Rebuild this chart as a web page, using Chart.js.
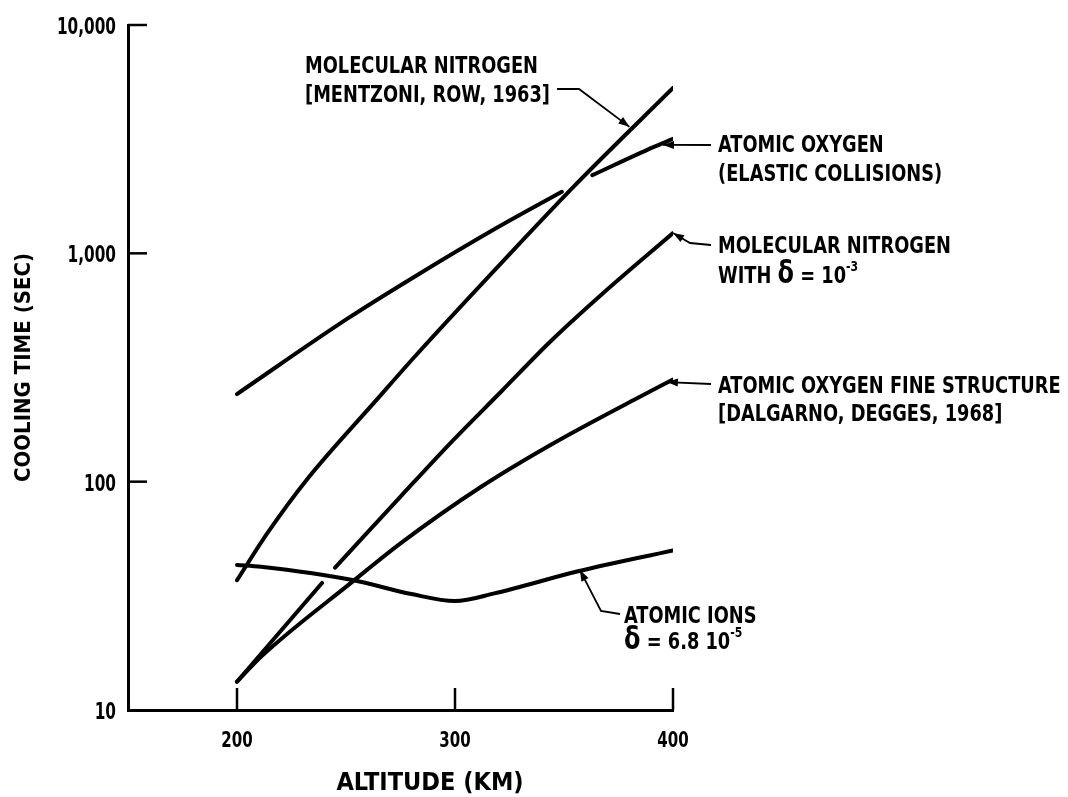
<!DOCTYPE html>
<html>
<head>
<meta charset="utf-8">
<title>Cooling time vs altitude</title>
<script src="https://cdn.jsdelivr.net/npm/chart.js@4.4.1/dist/chart.umd.min.js"></script>
<style>
    html, body { margin: 0; padding: 0; background: #fff; }
    canvas { display: block; }
</style>
</head>
<body>
<canvas id="coolingChart" width="1068" height="797"></canvas>
<script>
// ======================
// Data
// ======================
const xTicks = [200, 300, 400];
const yTicks = [10, 100, 1000, 10000];

// altitude (km) / cooling time (sec); null = break in the drawn line
const mentzoniAlt  = [200, 214, 232, 264, 282, 324, 356, 400];
const mentzoniTime = [37, 59.6, 102, 228, 357, 968, 2030, 5300];

const elasticAlt  = [200, 251, 282, 319, 349, 356, 363, 391, 400];
const elasticTime = [242, 520, 796, 1290, 1860, null, 2200, 2920, 3170];

const deltaAlt  = [200, 239, 242, 245, 275, 298, 321, 344, 367, 400];
const deltaTime = [13.3, 36, null, 42, 86, 148, 247, 413, 657, 1227];

const fineAlt  = [200, 211, 253, 275, 312, 345, 382, 400];
const fineTime = [13.3, 17.1, 36.5, 53.7, 95, 147, 228, 280];

const ionsAlt  = [200, 211, 253, 280, 300, 318, 356, 400];
const ionsTime = [43.2, 42.4, 37.1, 32.2, 30, 32.4, 40.4, 50];

const FONT = "'DejaVu Sans Condensed', 'DejaVu Sans', sans-serif";
const SQUEEZE = 0.86;   // lettering on the original is narrower than any installed face

function pairs(xs, ys) {
    return xs.map((x, i) => ({ x: x, y: ys[i] }));
}

function curve(label, xs, ys) {
    return {
        label: label,
        data: pairs(xs, ys),
        borderColor: '#000',
        borderWidth: 4,
        borderCapStyle: 'round',
        borderJoinStyle: 'round',
        pointRadius: 0,
        fill: false,
        cubicInterpolationMode: 'monotone',
        spanGaps: false
    };
}

// ======================
// Callout labels (arrow tip anchored in data units)
// ======================
const notes = [
    {
        lines: [[{ t: 'MOLECULAR NITROGEN' }], [{ t: '[MENTZONI, ROW, 1963]' }]],
        x: 305, base: [73, 102],
        leader: [[557, 89], [579, 89]], tip: { x: 380, y: 3580 }
    },
    {
        lines: [[{ t: 'ATOMIC OXYGEN' }], [{ t: '(ELASTIC COLLISIONS)' }]],
        x: 718, base: [152, 181],
        leader: [[711, 145]], tip: { x: 395.4, y: 2985 }
    },
    {
        lines: [[{ t: 'MOLECULAR NITROGEN' }],
                [{ t: 'WITH ' }, { t: 'δ', size: 31 }, { t: ' = 10' }, { t: '-3', sup: true }]],
        x: 718, base: [253, 283],
        leader: [[711, 245], [690, 243]], tip: { x: 400, y: 1227 }
    },
    {
        lines: [[{ t: 'ATOMIC OXYGEN FINE STRUCTURE' }], [{ t: '[DALGARNO, DEGGES, 1968]' }]],
        x: 718, base: [393, 421],
        leader: [[711, 384]], tip: { x: 397.2, y: 273 }
    },
    {
        lines: [[{ t: 'ATOMIC IONS' }],
                [{ t: 'δ', size: 31 }, { t: ' = 6.8 10' }, { t: '-5', sup: true }]],
        x: 624, base: [623, 649],
        leader: [[620, 614], [601, 611]], tip: { x: 357.3, y: 41 }
    }
];

function squeezed(ctx, text, x, y, sx, align) {
    ctx.save();
    ctx.translate(x, y);
    ctx.scale(sx, 1);
    ctx.textAlign = align || 'left';
    ctx.fillText(text, 0, 0);
    const w = ctx.measureText(text).width * sx;
    ctx.restore();
    return w;
}

function drawRuns(ctx, runs, x, y) {
    let cx = x;
    runs.forEach(r => {
        const size = r.sup ? 14 : (r.size || 23);
        ctx.font = 'bold ' + size + 'px ' + FONT;
        cx += squeezed(ctx, r.t, cx, y + (r.sup ? -12 : 0), SQUEEZE);
    });
}

function arrowHead(ctx, from, to) {
    const a = Math.atan2(to[1] - from[1], to[0] - from[0]);
    const len = 11, half = 4;
    ctx.beginPath();
    ctx.moveTo(to[0], to[1]);
    ctx.lineTo(to[0] - len * Math.cos(a) + half * Math.sin(a), to[1] - len * Math.sin(a) - half * Math.cos(a));
    ctx.lineTo(to[0] - len * Math.cos(a) - half * Math.sin(a), to[1] - len * Math.sin(a) + half * Math.cos(a));
    ctx.closePath();
    ctx.fill();
}

const annotations = {
    id: 'annotations',
    afterDraw(chart) {
        const { ctx, scales: { x, y } } = chart;
        ctx.save();
        ctx.strokeStyle = '#000';
        ctx.fillStyle = '#000';
        ctx.textBaseline = 'alphabetic';

        // inward tick marks + narrow tick labels
        ctx.lineWidth = 2.5;
        ctx.font = 'bold 23px ' + FONT;
        yTicks.forEach((v, i) => {
            const py = y.getPixelForValue(v);
            if (i > 0) {
                ctx.beginPath();
                ctx.moveTo(x.left, py);
                ctx.lineTo(x.left + 19, py);
                ctx.stroke();
            }
            squeezed(ctx, v.toLocaleString('en-US'), x.left - 12, py + 9, 0.74, 'right');
        });
        ctx.font = 'bold 22px ' + FONT;
        xTicks.forEach(v => {
            const px = x.getPixelForValue(v);
            ctx.beginPath();
            ctx.moveTo(px, y.bottom);
            ctx.lineTo(px, y.bottom - 22);
            ctx.stroke();
            squeezed(ctx, String(v), px, 747, 0.76, 'center');
        });

        // x-axis title
        ctx.font = 'bold 25px ' + FONT;
        squeezed(ctx, 'ALTITUDE (KM)', 430, 790, 1, 'center');

        // callouts
        notes.forEach(n => {
            n.lines.forEach((runs, i) => drawRuns(ctx, runs, n.x, n.base[i]));
            const tip = [x.getPixelForValue(n.tip.x), y.getPixelForValue(n.tip.y)];
            const path = n.leader.concat([tip]);
            ctx.lineWidth = 1.8;
            ctx.beginPath();
            ctx.moveTo(path[0][0], path[0][1]);
            path.slice(1).forEach(p => ctx.lineTo(p[0], p[1]));
            ctx.stroke();
            arrowHead(ctx, path[path.length - 2], tip);
        });
        ctx.restore();
    }
};

// ======================
// Chart
// ======================
const coolingCanvas = document.getElementById('coolingChart');

if (coolingCanvas) {
    new Chart(coolingCanvas, {
        type: 'line',
        data: {
            datasets: [
                curve('Molecular nitrogen [Mentzoni, Row, 1963]', mentzoniAlt, mentzoniTime),
                curve('Atomic oxygen (elastic collisions)', elasticAlt, elasticTime),
                curve('Molecular nitrogen with δ = 10^-3', deltaAlt, deltaTime),
                curve('Atomic oxygen fine structure [Dalgarno, Degges, 1968]', fineAlt, fineTime),
                curve('Atomic ions δ = 6.8 10^-5', ionsAlt, ionsTime)
            ]
        },
        options: {
            responsive: false,
            animation: false,
            devicePixelRatio: 1,
            layout: {
                padding: { top: 25, right: 395, bottom: 0, left: 0 }
            },
            scales: {
                x: {
                    type: 'linear',
                    min: 150,
                    max: 400,
                    afterBuildTicks: scale => {
                        scale.ticks = xTicks.map(v => ({ value: v }));
                    },
                    afterFit: scale => { scale.height = 87; },
                    grid: { display: false },
                    border: { display: true, color: '#000', width: 3 },
                    ticks: { display: false }
                },
                y: {
                    type: 'logarithmic',
                    min: 10,
                    max: 10000,
                    afterBuildTicks: scale => {
                        scale.ticks = yTicks.map(v => ({ value: v }));
                    },
                    afterFit: scale => { scale.width = 128; },
                    grid: { display: false },
                    border: { display: true, color: '#000', width: 3 },
                    ticks: { display: false },
                    title: {
                        display: true,
                        text: 'COOLING TIME (SEC)',
                        color: '#000',
                        padding: { top: 11, bottom: 0 },
                        font: { size: 22, weight: 'bold', family: FONT }
                    }
                }
            },
            plugins: {
                legend: { display: false },
                tooltip: { enabled: false }
            }
        },
        plugins: [annotations]
    });
}
</script>
</body>
</html>
